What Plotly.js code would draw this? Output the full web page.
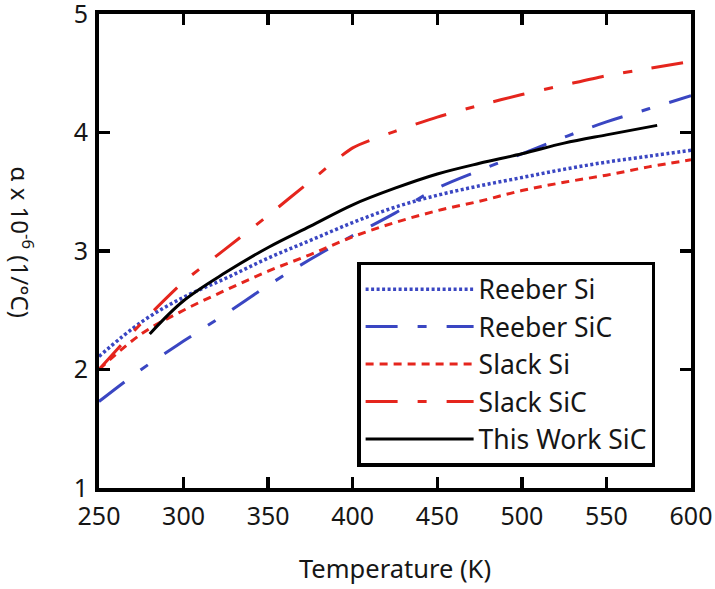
<!DOCTYPE html>
<html>
<head>
<meta charset="utf-8">
<script src="https://cdn.plot.ly/plotly-3.0.1.min.js"></script>
<style>html,body{margin:0;padding:0;background:#fff;}#chart{width:715px;height:589px;}</style>
</head>
<body>
<div id="chart"></div>
<script>
// Temperature grid (K)
var tempGrid = [250, 275, 300, 325, 350, 375, 400, 425, 450, 475, 500, 525, 550, 575, 600];
var reeberSi  = [2.11, 2.40, 2.61, 2.77, 2.94, 3.09, 3.24, 3.37, 3.47, 3.55, 3.62, 3.69, 3.75, 3.80, 3.85];
var reeberSiC = [1.73, 2.00, 2.24, 2.47, 2.71, 2.93, 3.13, 3.32, 3.53, 3.68, 3.82, 3.96, 4.09, 4.20, 4.31];
var slackSi   = [2.00, 2.30, 2.50, 2.67, 2.83, 2.97, 3.12, 3.24, 3.34, 3.42, 3.51, 3.58, 3.64, 3.71, 3.77];
var slackSiC  = [2.00, 2.39, 2.74, 3.02, 3.30, 3.59, 3.87, 4.01, 4.13, 4.23, 4.32, 4.40, 4.48, 4.54, 4.60];
// This work (measured range)
var workTemp  = [280, 300, 325, 350, 375, 400, 425, 450, 475, 500, 525, 550, 580];
var workSiC   = [2.30, 2.58, 2.82, 3.03, 3.21, 3.39, 3.53, 3.65, 3.74, 3.82, 3.91, 3.98, 4.06];

var xTicks = [250, 300, 350, 400, 450, 500, 550, 600];
var yTicks = [1, 2, 3, 4, 5];

var BLUE = '#3a46c2';
var RED = '#e5251d';
var INK = '#161616';
var FONT = 'Noto Sans, DejaVu Sans, sans-serif';

var traces = [
  {x: tempGrid, y: reeberSi, name: 'Reeber Si', mode: 'lines', line: {color: BLUE, width: 3.5, dash: '3px,2.5px', shape: 'spline'}},
  {x: tempGrid, y: reeberSiC, name: 'Reeber SiC', mode: 'lines', line: {color: BLUE, width: 3, dash: '32px,20px,9px,20px', shape: 'spline'}},
  {x: tempGrid, y: slackSi, name: 'Slack Si', mode: 'lines', line: {color: RED, width: 3, dash: '8px,6px', shape: 'spline'}},
  {x: tempGrid, y: slackSiC, name: 'Slack SiC', mode: 'lines', line: {color: RED, width: 3, dash: '32px,20px,9px,20px', shape: 'spline', smoothing: 0.6}},
  {x: workTemp, y: workSiC, name: 'This Work SiC', mode: 'lines', line: {color: '#000', width: 3, shape: 'spline'}}
];

var layout = {
  width: 715, height: 589,
  margin: {l: 99, r: 24, t: 14, b: 101, pad: 0},
  paper_bgcolor: '#fff', plot_bgcolor: '#fff',
  font: {family: FONT, size: 25, color: INK},
  showlegend: true,
  legend: {
    x: 0.436, y: 0.477, xanchor: 'left', yanchor: 'top',
    bgcolor: '#fff', bordercolor: '#000', borderwidth: 3.5,
    font: {family: FONT, size: 26.5, color: INK},
    itemwidth: 108, tracegroupgap: 0
  },
  xaxis: {
    range: [250, 600], tickvals: xTicks, ticktext: xTicks.map(String),
    ticks: 'inside', ticklen: 11, tickwidth: 3.5, tickcolor: '#000',
    showline: true, linewidth: 4, linecolor: '#000', mirror: 'ticks',
    showgrid: false, zeroline: false, ticklabeloverflow: 'allow', ticklabelstandoff: 3,
    tickfont: {family: FONT, size: 25, color: INK},
    title: {text: 'Temperature (K)', font: {family: FONT, size: 25.5, color: INK}, standoff: 30}
  },
  yaxis: {
    range: [1, 5], tickvals: yTicks, ticktext: yTicks.map(String),
    ticks: 'inside', ticklen: 11, tickwidth: 3.5, tickcolor: '#000',
    showline: true, linewidth: 4, linecolor: '#000', mirror: 'ticks',
    showgrid: false, zeroline: false, ticklabeloverflow: 'allow', ticklabelstandoff: 2,
    tickfont: {family: FONT, size: 25, color: INK}
  },
  annotations: [{
    xref: 'paper', yref: 'paper', x: -0.13, y: 0.52, xanchor: 'center', yanchor: 'middle',
    text: 'α x 10<sup>-6</sup> (1/°C)', textangle: 90, showarrow: false,
    font: {family: FONT, size: 24, color: INK}
  }]
};

Plotly.newPlot('chart', traces, layout, {staticPlot: true, displayModeBar: false});
</script>
</body>
</html>
